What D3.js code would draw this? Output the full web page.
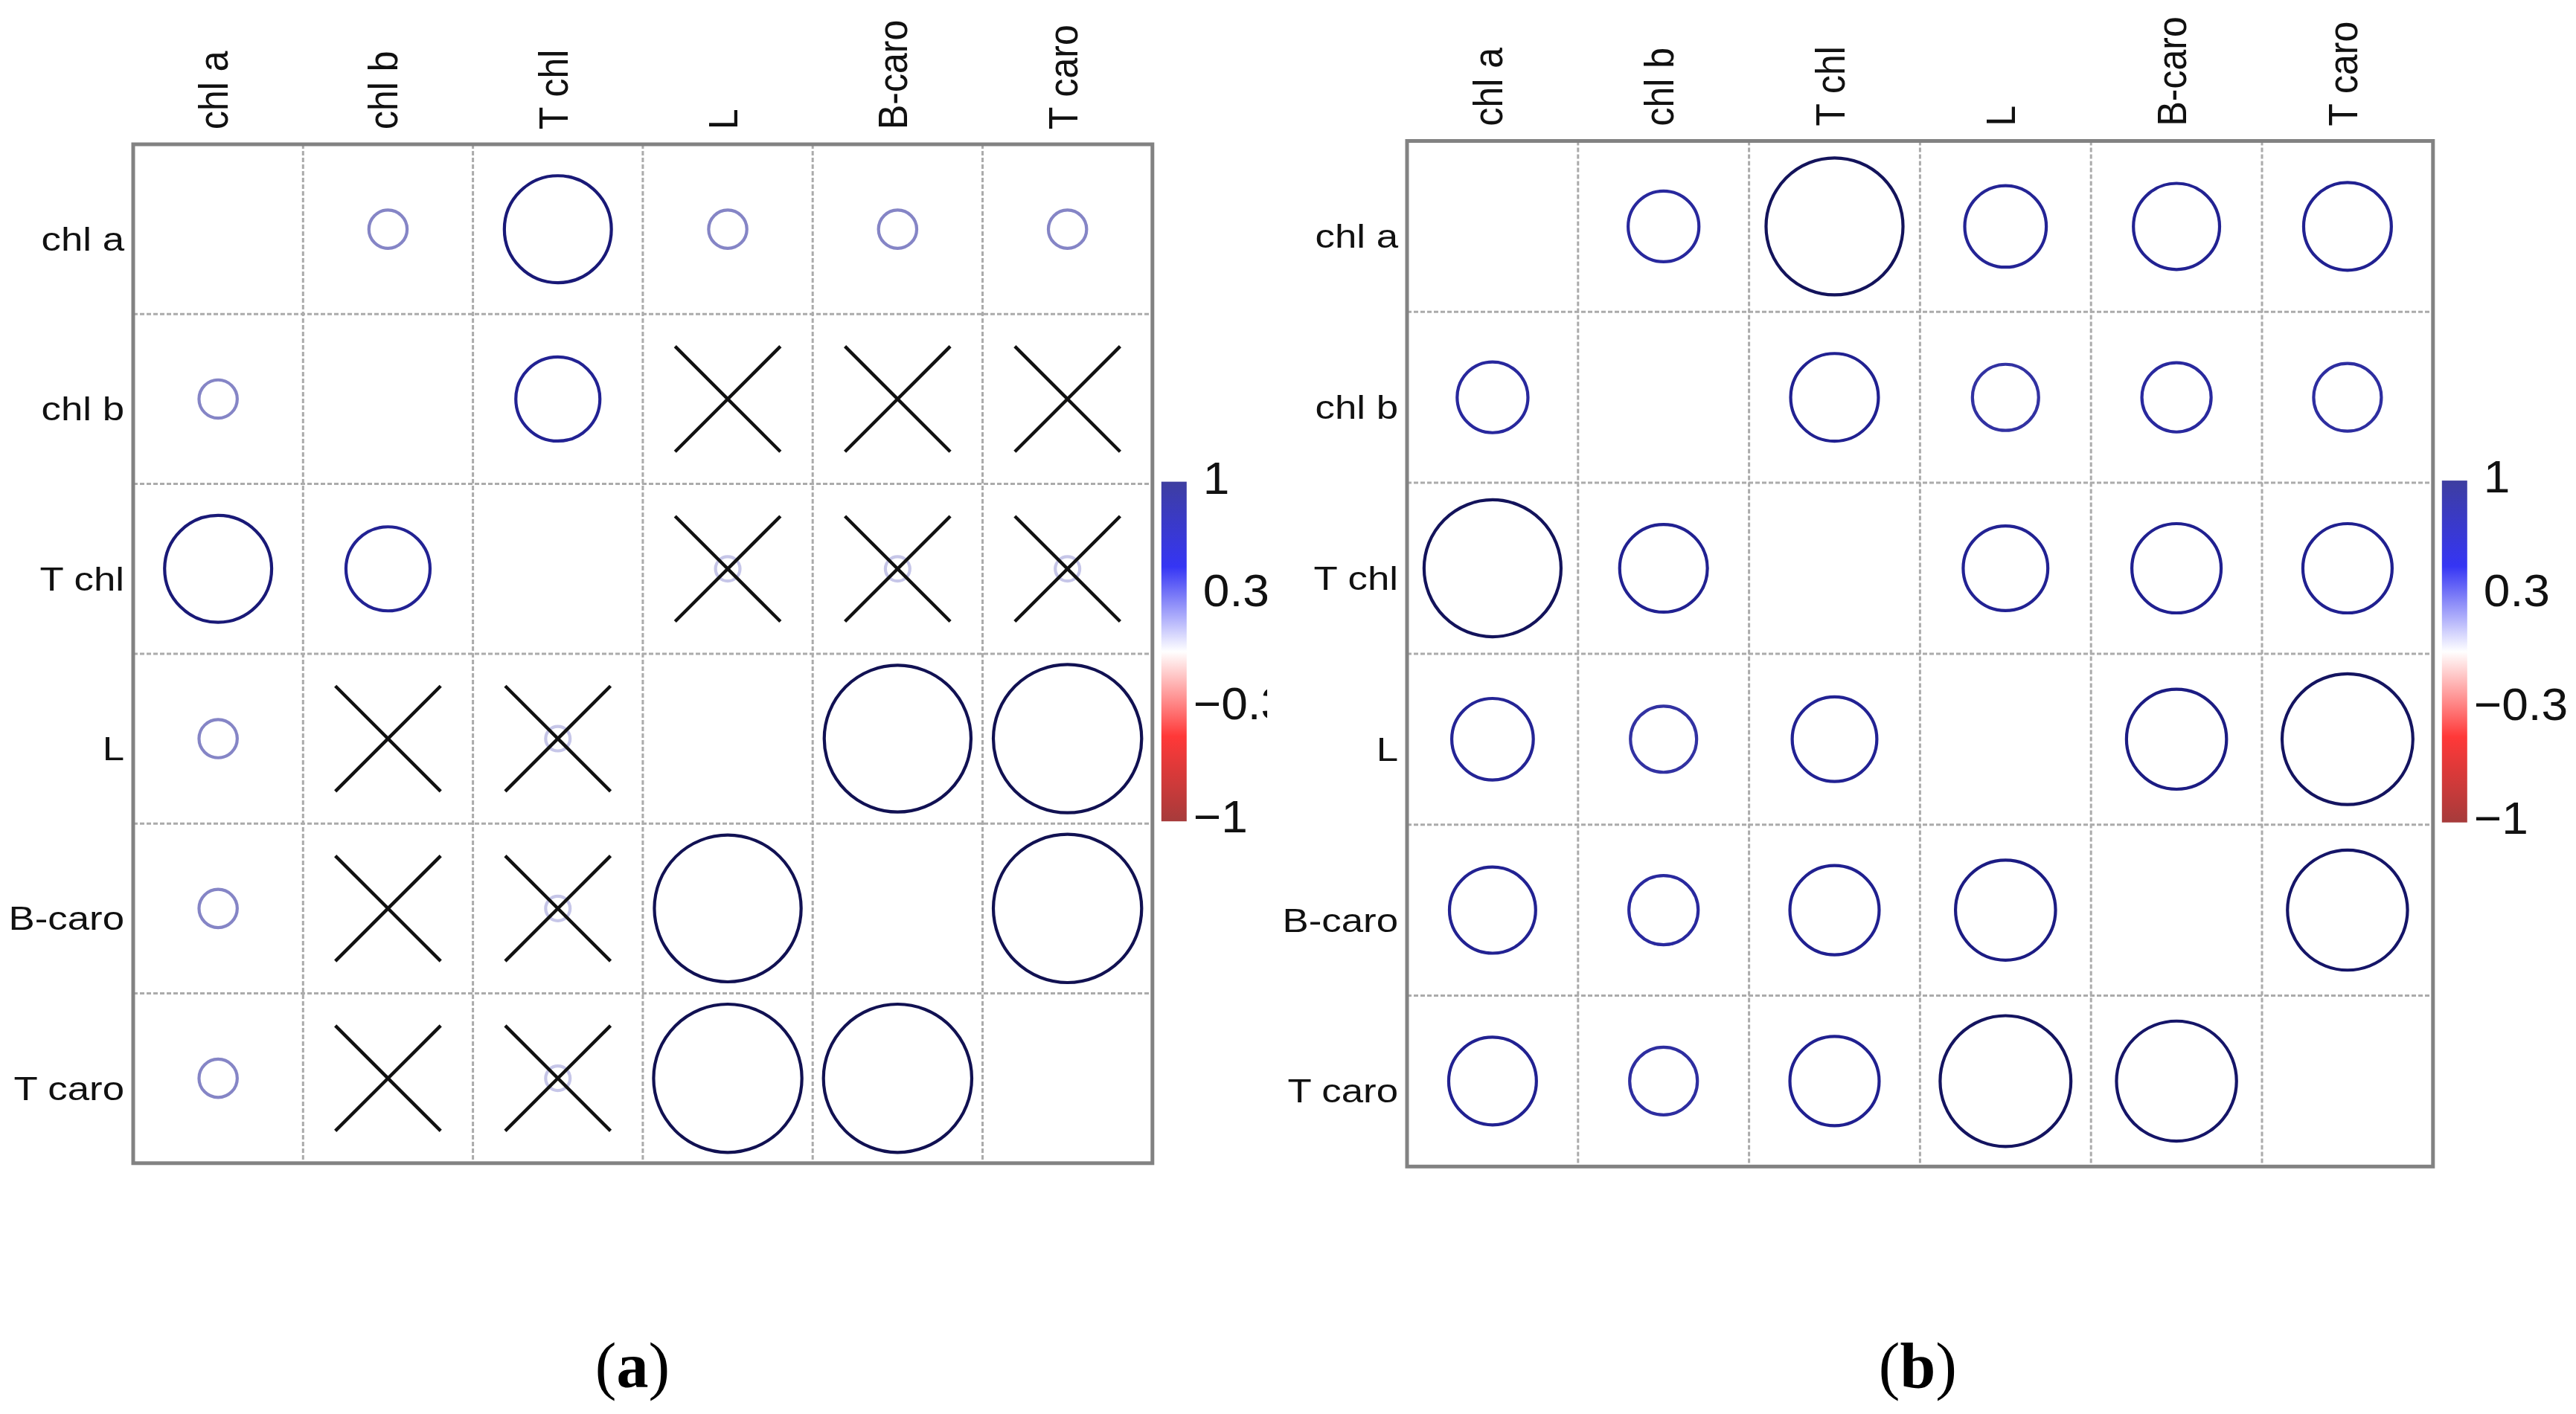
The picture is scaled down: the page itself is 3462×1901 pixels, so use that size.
<!DOCTYPE html>
<html>
<head>
<meta charset="utf-8">
<script src="https://cdn.jsdelivr.net/npm/d3@7"></script>
<style>
  html, body { margin: 0; padding: 0; background: #fff; }
  svg { display: block; }
</style>
</head>
<body>
<svg id="chart" width="3462" height="1901"></svg>
<script>
// variable names, same order on both axes
const vars = ['chl a', 'chl b', 'T chl', 'L', 'B-caro', 'T caro'];

// (a) correlation matrix, read off circle sizes (diagonal not drawn)
const corrA = [
    [null, 0.25, 0.70, 0.25, 0.25, 0.25],
    [0.25, null, 0.55, 0.03, 0.03, 0.03],
    [0.70, 0.55, null, 0.16, 0.16, 0.16],
    [0.25, 0.03, 0.16, null, 0.96, 0.97],
    [0.25, 0.03, 0.16, 0.96, null, 0.97],
    [0.25, 0.03, 0.16, 0.97, 0.97, null]
];
// (a) pairs crossed out as not significant
const insigA = [
    ['chl b', 'L'], ['chl b', 'B-caro'], ['chl b', 'T caro'],
    ['T chl', 'L'], ['T chl', 'B-caro'], ['T chl', 'T caro']
];

// (b) correlation matrix
const corrB = [
    [null, 0.46, 0.89, 0.53, 0.56, 0.57],
    [0.46, null, 0.57, 0.43, 0.45, 0.44],
    [0.89, 0.57, null, 0.55, 0.58, 0.58],
    [0.53, 0.43, 0.55, null, 0.65, 0.85],
    [0.56, 0.45, 0.58, 0.65, null, 0.78],
    [0.57, 0.44, 0.58, 0.85, 0.78, null]
];
const insigB = [];

// colour legend
const legendTicks = [1, 1 / 3, -1 / 3, -1];
const legendLabels = ['1', '0.3', '\u22120.3', '\u22121'];

let svg = d3.select('#chart');
svg.append('rect').attr('width', 3462).attr('height', 1901).attr('fill', '#fff');
let defs = svg.append('defs');

// colour bar gradient
let barColor = d3.scaleLinear()
    .domain([-1, -0.5, 0, 0.5, 1])
    .range(['#a63b3b', '#ff3838', '#ffffff', '#3535f4', '#3e3ea0']);
let grad = defs.append('linearGradient')
    .attr('id', 'cbar')
    .attr('x1', 0).attr('y1', 1).attr('x2', 0).attr('y2', 0);
d3.range(0, 1.0001, 0.05).forEach(function(t) {
    grad.append('stop')
        .attr('offset', t)
        .attr('stop-color', barColor(t * 2 - 1));
});

// outline colour of the circles gets darker with |r|
let strokeColor = d3.scaleLinear()
    .domain([0, 0.15, 0.25, 0.45, 0.6, 0.75, 1])
    .range(['#ffffff', '#cdcdec', '#8585c6', '#29299e', '#1f1f8e', '#16166c', '#10104e']);

let panels = [
    {tag: 'a', values: corrA, insig: insigA, left: 179, top: 194, cell: 228.3, clipX: 1703, tagShift: -14},
    {tag: 'b', values: corrB, insig: insigB, left: 1891, top: 189.5, cell: 229.8, clipX: null, tagShift: -3}
];

panels.forEach(drawPanel);

function drawPanel(p) {
    let size = p.cell * vars.length;
    let x = d3.scaleBand().domain(vars).range([p.left, p.left + size]);
    let y = d3.scaleBand().domain(vars).range([p.top, p.top + size]);
    let rScale = d3.scaleLinear().domain([0, 1]).range([0, 0.45 * p.cell]);

    let g = svg.append('g').attr('class', 'panel-' + p.tag);

    // dashed inner grid
    let inner = vars.slice(1);
    g.selectAll('.vgrid').data(inner).enter().append('line')
        .attr('x1', d => x(d)).attr('x2', d => x(d))
        .attr('y1', p.top).attr('y2', p.top + size)
        .attr('stroke', '#ababab').attr('stroke-width', 3)
        .attr('stroke-dasharray', '6,3');
    g.selectAll('.hgrid').data(inner).enter().append('line')
        .attr('y1', d => y(d)).attr('y2', d => y(d))
        .attr('x1', p.left).attr('x2', p.left + size)
        .attr('stroke', '#ababab').attr('stroke-width', 3)
        .attr('stroke-dasharray', '6,3');

    // border
    g.append('rect')
        .attr('x', p.left).attr('y', p.top)
        .attr('width', size).attr('height', size)
        .attr('fill', 'none').attr('stroke', '#828282').attr('stroke-width', 5);

    // circles
    let cells = [];
    p.values.forEach(function(row, i) {
        row.forEach(function(v, j) {
            if (v !== null) cells.push({row: vars[i], col: vars[j], v: v});
        });
    });
    g.selectAll('circle.cor').data(cells).enter().append('circle')
        .attr('class', 'cor')
        .attr('cx', d => x(d.col) + x.bandwidth() / 2)
        .attr('cy', d => y(d.row) + y.bandwidth() / 2)
        .attr('r', d => rScale(Math.abs(d.v)))
        .attr('fill', 'none')
        .attr('stroke', d => strokeColor(Math.abs(d.v)))
        .attr('stroke-width', 4.2);

    // crosses for non-significant pairs (both triangles)
    let crosses = [];
    p.insig.forEach(function(pair) {
        crosses.push({row: pair[0], col: pair[1]});
        crosses.push({row: pair[1], col: pair[0]});
    });
    let h = 0.31 * p.cell;
    let cross = g.selectAll('g.cross').data(crosses).enter().append('g')
        .attr('class', 'cross')
        .attr('transform', d => 'translate(' + [x(d.col) + x.bandwidth() / 2, y(d.row) + y.bandwidth() / 2] + ')');
    cross.append('line').attr('x1', -h).attr('y1', -h).attr('x2', h).attr('y2', h);
    cross.append('line').attr('x1', -h).attr('y1', h).attr('x2', h).attr('y2', -h);
    cross.selectAll('line').attr('stroke', '#111').attr('stroke-width', 4.5);

    // row labels
    g.selectAll('.rowlab').data(vars).enter().append('text')
        .attr('transform', d => 'translate(' + [p.left - 12, y(d) + y.bandwidth() / 2 + 29] + ') scale(1.2,1)')
        .attr('text-anchor', 'end')
        .attr('font-family', 'Liberation Sans, Arial, sans-serif')
        .attr('font-size', 44)
        .attr('fill', '#111')
        .text(d => d);

    // column labels, rotated
    g.selectAll('.collab').data(vars).enter().append('text')
        .attr('transform', d => 'translate(' + [x(d) + x.bandwidth() / 2 + 13, p.top - 20] + ') scale(1.12,1) rotate(-90)')
        .attr('text-anchor', 'start')
        .attr('font-family', 'Liberation Sans, Arial, sans-serif')
        .attr('font-size', 50)
        .attr('fill', '#111')
        .text(d => d);

    // colour legend beside rows 3-4
    let barX = p.left + size + 12;
    let barTop = p.top + 2 * p.cell - 3;
    let barBottom = p.top + 4 * p.cell - 3;
    g.append('rect')
        .attr('x', barX).attr('y', barTop)
        .attr('width', 34).attr('height', barBottom - barTop)
        .attr('fill', 'url(#cbar)');

    let ly = d3.scaleLinear().domain([-1, 1]).range([barBottom - 7, barTop - 6]);
    let labG = g.append('g');
    if (p.clipX) {
        defs.append('clipPath').attr('id', 'clip-' + p.tag)
            .append('rect').attr('x', 0).attr('y', 0).attr('width', p.clipX).attr('height', 1901);
        labG.attr('clip-path', 'url(#clip-' + p.tag + ')');
    }
    labG.selectAll('text').data(legendTicks).enter().append('text')
        .attr('transform', d => 'translate(' + [barX + 43 + (d >= 0 ? 13 : 0), ly(d) + 22] + ') scale(1.05,1)')
        .attr('font-family', 'Liberation Sans, Arial, sans-serif')
        .attr('font-size', 61)
        .attr('fill', '#111')
        .text((d, i) => legendLabels[i]);

    // panel tag "(a)" / "(b)"
    let tag = svg.append('text')
        .attr('x', p.left + size / 2 + p.tagShift)
        .attr('y', 1865)
        .attr('text-anchor', 'middle')
        .attr('font-family', 'Liberation Serif, Times New Roman, serif')
        .attr('font-size', 86)
        .attr('fill', '#000');
    tag.append('tspan').text('(');
    tag.append('tspan').attr('font-weight', 'bold').text(p.tag);
    tag.append('tspan').text(')');
}
</script>
</body>
</html>
